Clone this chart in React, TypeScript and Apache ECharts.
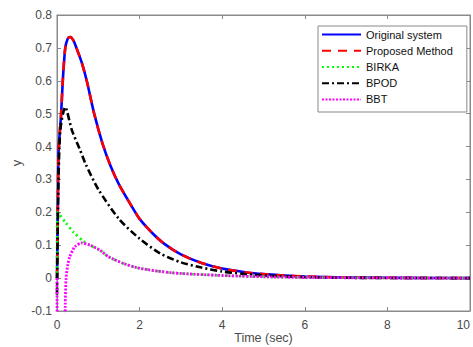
import React, { useEffect, useRef } from "react";
import * as echarts from "echarts";

const seriesNames = ["Original system", "Proposed Method", "BIRKA", "BPOD", "BBT"];

const tOrig = [0, 0.02, 0.04, 0.1, 0.14, 0.2, 0.26, 0.32, 0.4, 0.47, 0.6, 0.72, 0.9, 1.1, 1.3, 1.5, 1.8, 2.0, 2.3, 2.6, 3.0, 3.5, 4.0, 4.6, 5.0, 5.5, 6.0, 7.0, 8.0, 9.0, 10.0];
const yOrig = [0, 0.22, 0.39, 0.5, 0.6, 0.7, 0.728, 0.733, 0.722, 0.7, 0.655, 0.6, 0.5, 0.41, 0.34, 0.285, 0.22, 0.18, 0.138, 0.104, 0.072, 0.046, 0.029, 0.017, 0.012, 0.008, 0.005, 0.002, 0.001, 0.0005, 0];

const tBirka = [0, 0.01, 0.05, 0.2, 0.4, 0.64, 0.8, 1.04, 1.25, 1.6, 2.0, 2.8, 4.0, 5.0, 6.0, 8.0, 10.0];
const yBirka = [0, 0.2, 0.195, 0.17, 0.14, 0.112, 0.1, 0.085, 0.065, 0.045, 0.03, 0.016, 0.008, 0.004, 0.002, 0.0005, 0];

const tBpod = [0, 0.03, 0.08, 0.2, 0.36, 0.56, 0.7, 1.0, 1.5, 2.0, 2.5, 3.0, 3.5, 4.0, 4.5, 5.0, 6.0, 7.0, 10.0];
const yBpod = [-0.05, 0.25, 0.45, 0.52, 0.45, 0.389, 0.345, 0.27, 0.18, 0.12, 0.075, 0.048, 0.032, 0.02, 0.013, 0.008, 0.003, 0.001, 0];

const tBbt = [0, 0.03, 0.1, 0.18, 0.2, 0.22, 0.26, 0.31, 0.43, 0.6, 0.8, 1.04, 1.25, 1.6, 2.0, 2.8, 4.0, 5.0, 6.0, 8.0, 10.0];
const yBbt = [0, -1.0, -1.2, -0.4, -0.08, 0.0, 0.04, 0.065, 0.095, 0.107, 0.1, 0.085, 0.065, 0.045, 0.03, 0.016, 0.008, 0.004, 0.002, 0.0005, 0];

const xTicks = [0, 10, 2];
const yTicks = [-0.1, 0.8, 0.1];

const zip = (t: number[], y: number[]) => t.map((v, i) => [v, y[i]]);

export default function App() {
  const ref = useRef<HTMLDivElement>(null);
  useEffect(() => {
    const chart = echarts.init(ref.current!, null, { renderer: "svg" });
    const font = "Liberation Sans, Arial, sans-serif";
    const axisColor = "#8a8a8a";
    const labelColor = "#4a4a4a";
    const lineSeries = (name: string, data: number[][], color: string, width: number, type: any, z: number) => ({
      name,
      type: "line",
      data,
      symbol: "none",
      smooth: 0.25,
      z,
      lineStyle: { color, width, type },
      itemStyle: { color },
    });
    const axisLine = { show: true, onZero: false, lineStyle: { color: axisColor } };
    const axisTick = { show: true, inside: true, length: 4, lineStyle: { color: axisColor } };
    chart.setOption({
      animation: false,
      grid: {
        left: 57,
        right: 3,
        top: 15,
        bottom: 36,
        show: true,
        borderColor: axisColor,
        borderWidth: 1,
        outerBoundsMode: "none",
        containLabel: false,
      },
      legend: {
        data: seriesNames,
        orient: "vertical",
        left: 318,
        top: 26,
        padding: [3, 14, 7, 3],
        itemWidth: 39,
        itemHeight: 14,
        itemGap: 5,
        itemTextGap: 4,
        backgroundColor: "#fff",
        borderColor: "#888",
        borderWidth: 1,
        borderRadius: 0,
        itemStyle: { opacity: 0 },
        textStyle: { fontFamily: font, fontSize: 11, color: "#111" },
      },
      xAxis: [
        {
          type: "value",
          min: xTicks[0],
          max: xTicks[1],
          interval: xTicks[2],
          name: "Time (sec)",
          nameLocation: "middle",
          nameGap: 20,
          nameMoveOverlap: false,
          nameTextStyle: { fontFamily: font, fontSize: 12.5, color: labelColor, lineHeight: 14, verticalAlign: "top" },
          axisLine,
          axisTick,
          axisLabel: { fontFamily: font, fontSize: 12, color: labelColor, margin: 8, alignMaxLabel: "right" },
          splitLine: { show: false },
        },
        {
          type: "value",
          position: "top",
          min: xTicks[0],
          max: xTicks[1],
          interval: xTicks[2],
          axisLine,
          axisTick,
          axisLabel: { show: false },
          splitLine: { show: false },
        },
      ],
      yAxis: [
        {
          type: "value",
          min: yTicks[0],
          max: yTicks[1],
          interval: yTicks[2],
          name: "y",
          nameLocation: "middle",
          nameGap: 34,
          nameMoveOverlap: false,
          nameTextStyle: { fontFamily: font, fontSize: 13, color: labelColor },
          axisLine,
          axisTick,
          axisLabel: {
            fontFamily: font,
            fontSize: 12,
            color: labelColor,
            margin: 5,
            formatter: (v: number) => String(parseFloat(v.toFixed(1))),
          },
          splitLine: { show: false },
        },
        {
          type: "value",
          position: "right",
          min: yTicks[0],
          max: yTicks[1],
          interval: yTicks[2],
          axisLine,
          axisTick,
          axisLabel: { show: false },
          splitLine: { show: false },
        },
      ],
      series: [
        lineSeries(seriesNames[0], zip(tOrig, yOrig), "#0000ff", 2.6, "solid", 2),
        lineSeries(seriesNames[1], zip(tOrig, yOrig), "#ff0000", 2.6, [9, 7], 3),
        lineSeries(seriesNames[2], zip(tBirka, yBirka), "#00ff00", 2.6, [2, 3], 4),
        lineSeries(seriesNames[3], zip(tBpod, yBpod), "#000000", 2.6, [7, 3, 2, 3], 5),
        lineSeries(seriesNames[4], zip(tBbt, yBbt), "#ff00ff", 2.8, [2, 1.5], 6),
      ],
    });
    return () => chart.dispose();
  }, []);
  return <div ref={ref} style={{ width: 473, height: 347, position: "absolute", left: 0, top: 0 }} />;
}
